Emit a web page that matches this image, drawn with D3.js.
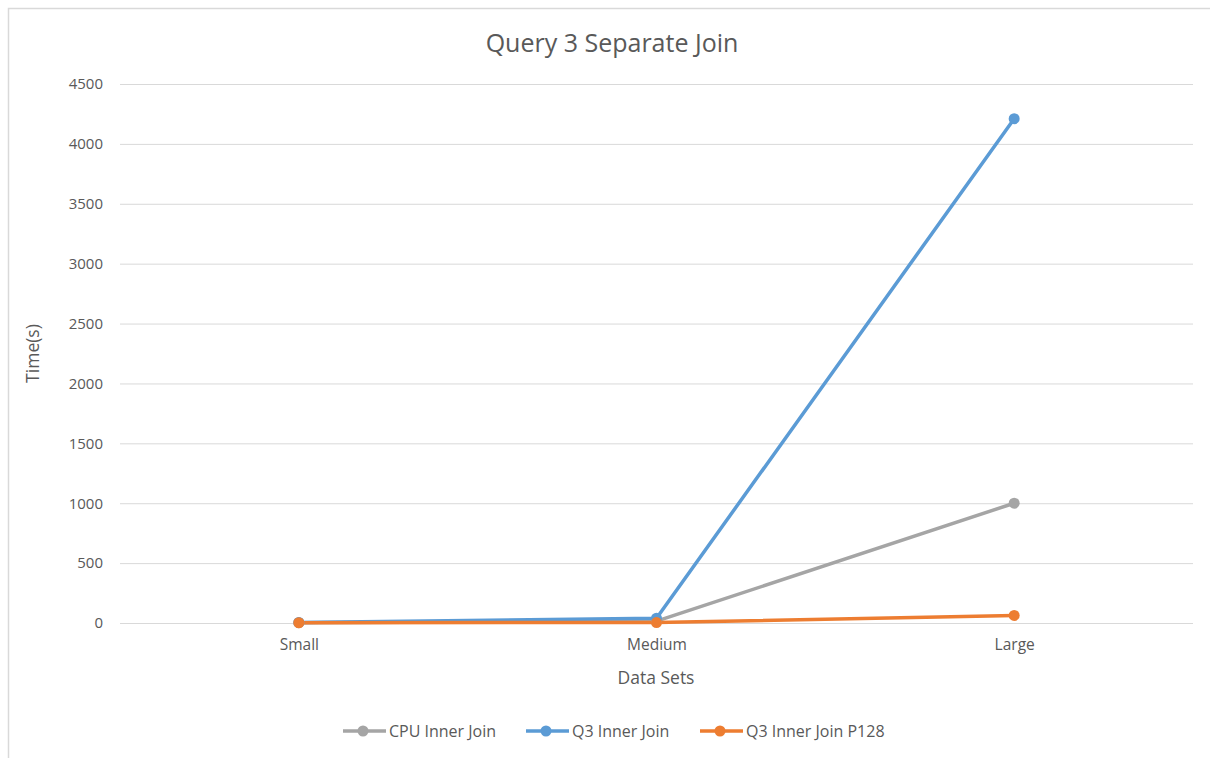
<!DOCTYPE html>
<html>
<head>
<meta charset="utf-8">
<script src="https://cdn.jsdelivr.net/npm/d3@7/dist/d3.min.js"></script>
<style>
  html, body { margin: 0; padding: 0; background: #fff; }
  svg { display: block; font-family: "Open Sans", "Liberation Sans", sans-serif; }
</style>
</head>
<body>
<svg id="chart" width="1210" height="758"></svg>
<script>
// Query 3 separate join timings (seconds) per data set
const categories = ["Small", "Medium", "Large"];
const cpuInnerJoin = [3, 15, 1000];
const q3InnerJoin = [5, 40, 4210];
const q3InnerJoinP128 = [2, 4, 63];
const seriesNames = ["CPU Inner Join", "Q3 Inner Join", "Q3 Inner Join P128"];
const yTicks = [0, 500, 1000, 1500, 2000, 2500, 3000, 3500, 4000, 4500];

const colors = ["#a5a5a5", "#5b9bd5", "#ed7d31"];
const series = [cpuInnerJoin, q3InnerJoin, q3InnerJoinP128].map((values, i) => ({
  name: seriesNames[i], values, color: colors[i]
}));

const svg = d3.select("#chart");
const W = 1210, H = 758;
const plot = { left: 120, right: 1193, top: 84, bottom: 623 };

// outer chart border
svg.append("rect")
  .attr("x", 8.5).attr("y", 8.5)
  .attr("width", W + 20).attr("height", H + 20)
  .attr("fill", "#fff").attr("stroke", "#d9d9d9").attr("stroke-width", 1.5);

const x = d3.scalePoint().domain(categories).range([plot.left, plot.right]).padding(0.5);
const y = d3.scaleLinear().domain([0, 4500]).range([plot.bottom, plot.top]);

// gridlines
svg.append("g").selectAll("line").data(yTicks).join("line")
  .attr("x1", plot.left).attr("x2", plot.right)
  .attr("y1", d => y(d) + 0.5).attr("y2", d => y(d) + 0.5)
  .attr("stroke", "#d9d9d9").attr("stroke-width", 1);

// y axis labels
const yAxis = d3.axisLeft(y).tickValues(yTicks).tickFormat(d3.format("d")).tickSize(0).tickPadding(17);
const gy = svg.append("g").attr("transform", `translate(${plot.left},0)`).call(yAxis);
gy.select(".domain").remove();
gy.selectAll("text").attr("fill", "#595959").style("font-size", "15px")
  .attr("font-family", "'Open Sans', sans-serif");

// x axis labels
const xAxis = d3.axisBottom(x).tickSize(0).tickPadding(16);
const gx = svg.append("g").attr("transform", `translate(0,${plot.bottom})`).call(xAxis);
gx.select(".domain").remove();
gx.selectAll("text").attr("fill", "#595959").style("font-size", "15.5px")
  .attr("font-family", "'Open Sans', sans-serif");

// title
svg.append("text").attr("x", 612).attr("y", 52).attr("text-anchor", "middle")
  .attr("fill", "#595959").style("font-size", "25px").text("Query 3 Separate Join");

// axis titles
svg.append("text").attr("x", 656).attr("y", 684).attr("text-anchor", "middle")
  .attr("fill", "#595959").style("font-size", "17.5px").text("Data Sets");
svg.append("text")
  .attr("transform", `translate(39,${(plot.top + plot.bottom) / 2}) rotate(-90)`)
  .attr("text-anchor", "middle").attr("fill", "#595959").style("font-size", "17.5px").text("Time(s)");

// lines and markers
const line = d3.line().x((d, i) => x(categories[i])).y(d => y(d));
const g = svg.append("g");
series.forEach(s => {
  g.append("path").datum(s.values).attr("d", line)
    .attr("fill", "none").attr("stroke", s.color).attr("stroke-width", 3.5)
    .attr("stroke-linejoin", "round").attr("stroke-linecap", "round");
});
series.forEach(s => {
  g.selectAll(null).data(s.values).join("circle")
    .attr("cx", (d, i) => x(categories[i])).attr("cy", d => y(d))
    .attr("r", 5.5).attr("fill", s.color);
});

// legend
const legendX = [343, 526, 700];
const legend = svg.append("g");
series.forEach((s, i) => {
  const lg = legend.append("g").attr("transform", `translate(${legendX[i]},731)`);
  lg.append("line").attr("x1", 0).attr("x2", 43).attr("y1", 0).attr("y2", 0)
    .attr("stroke", s.color).attr("stroke-width", 3.5);
  lg.append("circle").attr("cx", 20).attr("cy", 0).attr("r", 5.5).attr("fill", s.color);
  lg.append("text").attr("x", 46).attr("y", 6).attr("fill", "#595959")
    .style("font-size", "16px").text(s.name);
});
</script>
</body>
</html>
